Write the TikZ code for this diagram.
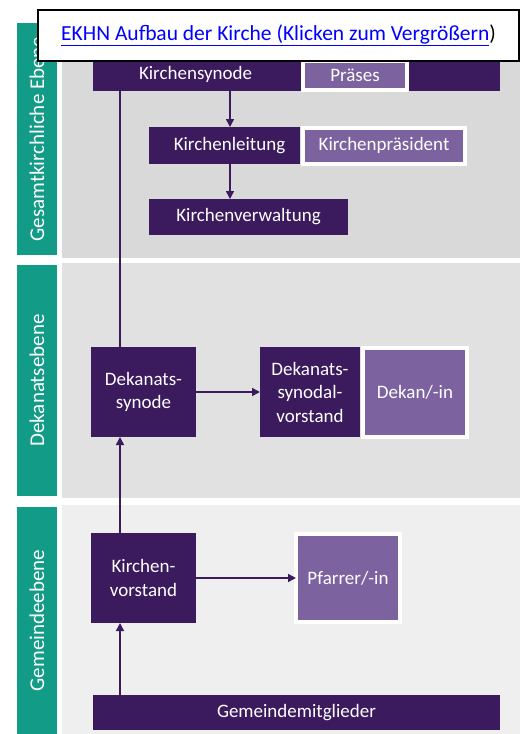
\documentclass[tikz,border=0pt]{standalone}
\usepackage{fontspec}
\setmainfont{Carlito}
\usepackage{xcolor}
\usepackage{tikz}
\usetikzlibrary{arrows.meta, positioning}
\definecolor{ekhnviolett}{RGB}{59,26,94}
\definecolor{ekhnlila}{RGB}{125,98,160}
\definecolor{ekhngruen}{RGB}{18,156,135}
\definecolor{linkblau}{RGB}{0,0,255}
\definecolor{bandoben}{RGB}{217,217,217}
\definecolor{bandmitte}{RGB}{225,225,225}
\definecolor{bandunten}{RGB}{239,239,239}

\begin{document}
\begin{tikzpicture}[
            x=1pt, y=-1pt,
            node distance=5pt,
            darkbox/.style={rectangle, fill=ekhnviolett, text=white, inner sep=0pt, outer sep=0pt, align=center, font=\fontsize{19}{23.5}\selectfont},
            lightbox/.style={rectangle, fill=ekhnlila, draw=white, line width=4pt, text=white, inner sep=0pt, outer sep=0pt, align=center, font=\fontsize{19}{23.5}\selectfont},
            levelbar/.style={rectangle, fill=ekhngruen, text=white, inner sep=0pt, minimum height=40pt, rotate=90, font=\fontsize{21}{25}\selectfont},
            flow/.style={-{Triangle[length=8pt, width=8pt]}, draw=ekhnviolett, line width=1.5pt},
            flowline/.style={draw=ekhnviolett, line width=1.5pt},
            ]
            \useasboundingbox (0,0) rectangle (520,734);
            \fill[bandoben]  (62,20)  rectangle (520,258);
            \fill[bandmitte] (62,263) rectangle (520,498);
            \fill[bandunten] (62,505) rectangle (520,734);

            \node[levelbar, minimum width=232pt] (gesamtebene)  at (37,139)   {Gesamtkirchliche Ebene};
            \node[levelbar, minimum width=231pt] (dekanatebene) at (37,380.5) {Dekanatsebene};
            \node[levelbar, minimum width=227pt] (gemeindeebene) at (37,620.5) {Gemeindeebene};

            \node[darkbox, minimum height=33pt, inner xsep=46pt, text width=315pt, align=left] (synode) at (296.5,74.5) {Kirchensynode};
            \node[lightbox, minimum width=104pt, minimum height=29pt] (praeses) at (355,75) {Präses};
            \node[darkbox, minimum width=151pt, minimum height=37pt] (leitung) at (224.5,145.5) {\hspace{10pt}Kirchenleitung};
            \node[lightbox, minimum width=162pt, minimum height=36pt] (praesident) [right=3pt of leitung] {Kirchenpräsident};
            \node[darkbox, minimum width=199pt, minimum height=36pt] (verwaltung) [below=35pt of leitung.south west, anchor=north west] {Kirchenverwaltung};

            \node[darkbox, minimum width=105pt, minimum height=90pt] (dsynode) at (143.5,392) {Dekanats-\\synode};
            \node[darkbox, minimum width=100pt, minimum height=90pt] (dvorstand) [right=64pt of dsynode] {Dekanats-\\synodal-\\vorstand};
            \node[lightbox, minimum width=104pt, minimum height=89pt] (dekan) [right=3pt of dvorstand] {Dekan/-in};

            \node[darkbox, minimum width=105pt, minimum height=90pt] (kvorstand) at (143.5,578) {Kirchen-\\vorstand};
            \node[lightbox, minimum width=104pt, minimum height=88pt] (pfarrer) [right=100pt of kvorstand] {Pfarrer/-in};
            \node[darkbox, minimum width=407pt, minimum height=35pt] (mitglieder) at (296.5,712.5) {Gemeindemitglieder};

            \coordinate (hauptlinie) at (120,0);
            \coordinate (abwaerts) at (230,0);

            \draw[flowline] (synode.south -| hauptlinie) -- (dsynode.north -| hauptlinie);
            \draw[flow] (synode.south -| abwaerts) -- (leitung.north -| abwaerts);
            \draw[flow] (leitung.south -| abwaerts) -- (verwaltung.north -| abwaerts);
            \draw[flow] (dsynode.east) -- (dvorstand.west);
            \draw[flow] (kvorstand.north -| hauptlinie) -- (dsynode.south -| hauptlinie);
            \draw[flow] (kvorstand.east) -- (pfarrer.west);
            \draw[flow] (mitglieder.north -| hauptlinie) -- (kvorstand.south -| hauptlinie);

            \node[draw=black, line width=1.2pt, fill=white, minimum width=481pt, minimum height=51pt, font=\fontsize{21.5}{25}\selectfont] (link) at (278.5,35.5) {\textcolor{linkblau}{\underline{EKHN Aufbau der Kirche (Klicken zum Vergrößern}})};
        \end{tikzpicture}
\end{document}
